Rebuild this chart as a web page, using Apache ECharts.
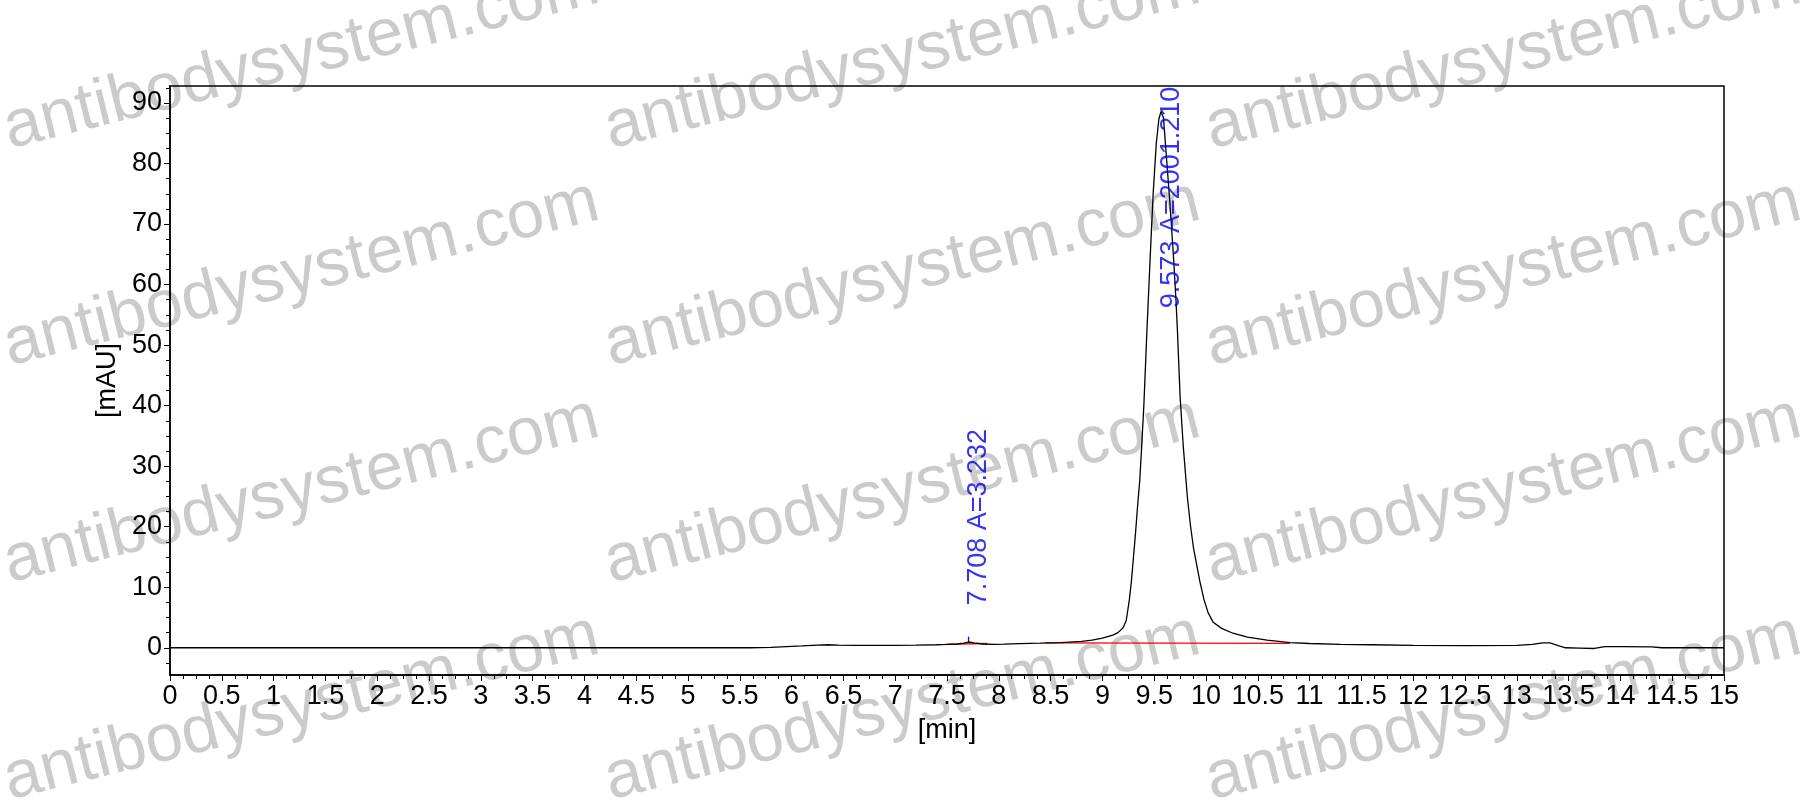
<!DOCTYPE html>
<html>
<head>
<meta charset="utf-8" />
<title>Chromatogram</title>
<script src="https://cdn.jsdelivr.net/npm/echarts@6/dist/echarts.min.js"></script>
<style>
  html, body { margin: 0; padding: 0; background: #fff; }
  #chart { width: 1812px; height: 805px; }
</style>
</head>
<body>
<div id="chart"></div>
<script type="text/javascript">
// retention time [min] and signal [mAU]
var retTime = [0, 1, 2, 3, 4, 5, 5.6, 5.8, 5.95, 6.1, 6.25, 6.35, 6.45, 6.6, 6.8, 7.0, 7.2, 7.4, 7.5, 7.6, 7.66, 7.71, 7.76, 7.85, 7.95,
  8.05, 8.2, 8.4, 8.6, 8.8, 8.9, 9.0, 9.05, 9.1, 9.15, 9.2, 9.23, 9.26, 9.28, 9.30, 9.32, 9.34, 9.36, 9.38, 9.40, 9.43, 9.46,
  9.49, 9.52, 9.545, 9.566, 9.59, 9.62, 9.645, 9.667, 9.69, 9.71, 9.724, 9.75, 9.78, 9.82, 9.85, 9.88, 9.94, 9.98, 10.02,
  10.07, 10.15, 10.26, 10.4, 10.59, 10.81, 11.0, 11.3, 11.6, 12.0, 12.5, 13.0, 13.15, 13.25, 13.32, 13.4, 13.47, 13.6,
  13.75, 13.85, 14.0, 14.3, 14.4, 15];
var signal = [0, 0, 0, 0, 0, 0, 0, 0.05, 0.2, 0.3, 0.45, 0.5, 0.45, 0.38, 0.38, 0.4, 0.42, 0.5, 0.55, 0.62, 0.75, 0.95, 0.8, 0.62, 0.55,
  0.6, 0.68, 0.75, 0.85, 1.05, 1.25, 1.6, 1.85, 2.1, 2.5, 3.3, 4.5, 7.9, 11.0, 15.0, 19.0, 23.5, 27.5, 33.5, 40.0, 52.5, 64.0,
  75.0, 83.3, 87.3, 88.6, 87.5, 80.6, 75.0, 69.6, 63.5, 57.5, 52.5, 41.5, 33.4, 24.9, 20.2, 16.4, 11.0, 8.0, 5.8,
  4.2, 3.2, 2.4, 1.75, 1.25, 0.85, 0.7, 0.55, 0.5, 0.4, 0.35, 0.4, 0.55, 0.8, 0.8, 0.35, 0.0, -0.05,
  -0.12, 0.2, 0.18, 0.15, 0.0, 0.0];

// integration baselines (red)
var baseline1 = [[7.48, 0.55], [7.89, 0.7]];
var baseline2 = [[8.45, 0.82], [10.81, 0.72]];

// peak annotations
var peakRt = [7.708, 9.573];
var peakArea = [3.232, 2001.210];
var labelY = [7.0, 56.1];
var peakMark = [[7.708, 0.8], [7.708, 1.8]];

// axis ticks
var yTicks = [0, 10, 20, 30, 40, 50, 60, 70, 80, 90];
var yMinor = [];
for (var v = -2.5; v < 92.8; v += 2.5) {
  if (yTicks.indexOf(v) < 0) yMinor.push(v);
}

var curve = retTime.map(function (t, i) { return [t, signal[i]]; });
var labels = peakRt.map(function (rt, i) {
  return { value: [rt, labelY[i]], text: rt.toFixed(3) + ' A=' + peakArea[i].toFixed(3) };
});

var FONT = "'Liberation Sans', Arial, sans-serif";

// watermark
var marks = [];
var ang = 13.9 * Math.PI / 180;
for (var r = 0; r < 4; r++) {
  for (var c = 0; c < 3; c++) {
    marks.push({
      type: 'text',
      x: 13 + 601 * c,
      y: 163 + 217 * r,
      rotation: ang,
      z: -10,
      silent: true,
      style: {
        text: 'antibodysystem.com',
        x: 0, y: 0,
        font: '67px ' + FONT,
        fill: '#cbcbcb',
        textAlign: 'left',
        textVerticalAlign: 'bottom'
      }
    });
  }
}

var myChart = echarts.init(document.getElementById('chart'));
var option = {
  animation: false,
  backgroundColor: '#fff',
  graphic: marks,
  grid: {
    left: 170, right: 88, top: 86, bottom: 130,
    show: true, borderColor: '#000', borderWidth: 1.5,
    outerBoundsMode: 'none'
  },
  xAxis: {
    type: 'value',
    min: 0, max: 15, interval: 0.5,
    name: '[min]', nameLocation: 'middle', nameGap: 42,
    nameTextStyle: { color: '#000', fontSize: 27, fontFamily: FONT },
    axisLine: { onZero: false, lineStyle: { color: '#000', width: 1.5 } },
    axisTick: { length: 6, lineStyle: { color: '#000' } },
    minorTick: { show: true, splitNumber: 4, length: 4, lineStyle: { color: '#000' } },
    splitLine: { show: false },
    axisLabel: { color: '#000', fontSize: 27, fontFamily: FONT, margin: 8 }
  },
  yAxis: [{
    type: 'value',
    min: -4.5, max: 92.8,
    name: '[mAU]', nameLocation: 'middle', nameGap: 41, nameRotate: 90,
    nameTextStyle: { color: '#000', fontSize: 27, fontFamily: FONT },
    axisLine: { show: true, lineStyle: { color: '#000', width: 1.5 } },
    axisTick: { show: true, length: 6, customValues: yTicks, lineStyle: { color: '#000' } },
    splitLine: { show: false },
    axisLabel: { color: '#000', fontSize: 27, fontFamily: FONT, margin: 8, customValues: yTicks }
  }, {
    type: 'value',
    min: -4.5, max: 92.8,
    position: 'left',
    axisLine: { show: false },
    axisTick: { show: true, length: 4, customValues: yMinor, lineStyle: { color: '#000' } },
    axisLabel: { show: false },
    splitLine: { show: false }
  }],
  series: [{
    type: 'line',
    data: curve,
    symbol: 'none',
    lineStyle: { color: '#000', width: 1.3 },
    z: 4
  }, {
    type: 'line',
    data: baseline1,
    symbol: 'none',
    lineStyle: { color: '#ff0000', width: 1.3 },
    z: 3
  }, {
    type: 'line',
    data: baseline2,
    symbol: 'none',
    lineStyle: { color: '#ff0000', width: 1.3 },
    z: 3
  }, {
    type: 'line',
    data: peakMark,
    symbol: 'none',
    lineStyle: { color: '#0000ff', width: 1.3 },
    z: 3
  }, {
    type: 'scatter',
    data: labels,
    symbolSize: 1,
    itemStyle: { color: 'rgba(0,0,0,0)' },
    z: 5,
    label: {
      show: true,
      position: 'inside',
      rotate: 90,
      align: 'left',
      verticalAlign: 'middle',
      offset: [0, 10],
      color: '#0000ee',
      fontSize: 27,
      fontFamily: FONT,
      formatter: function (p) { return p.data.text; }
    }
  }]
};
myChart.setOption(option);
</script>
</body>
</html>
